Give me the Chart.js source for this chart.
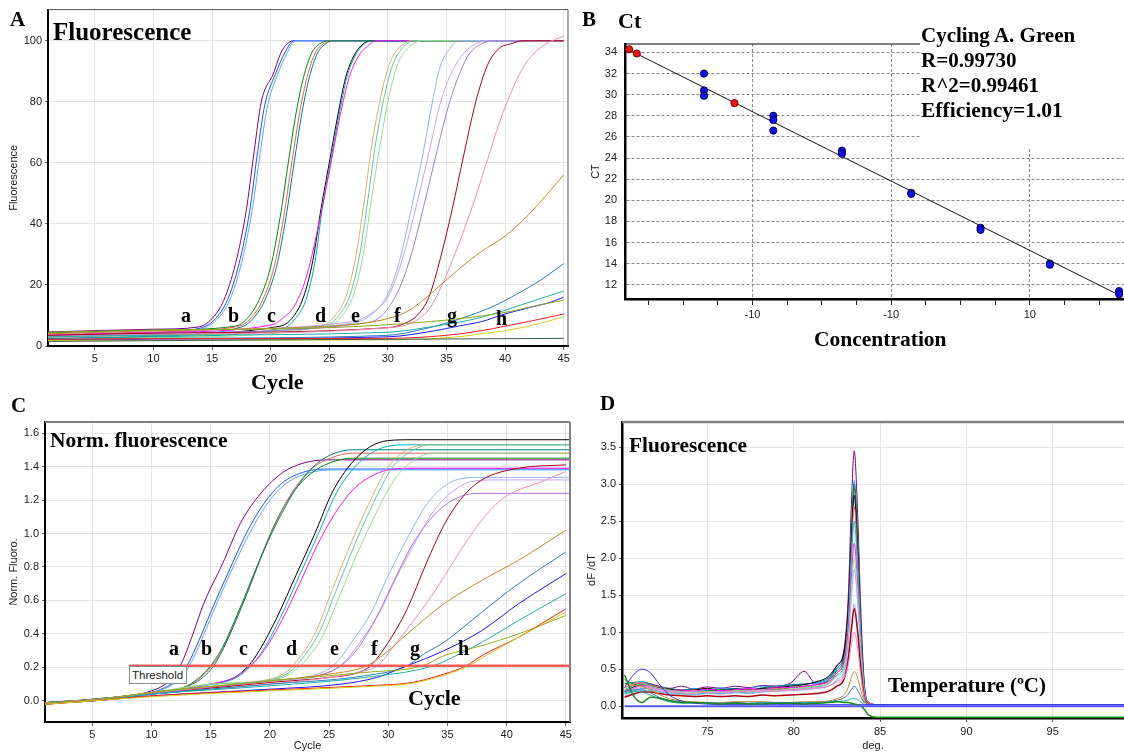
<!DOCTYPE html>
<html><head><meta charset="utf-8">
<script src="https://cdn.jsdelivr.net/npm/chart.js@4.4.1/dist/chart.umd.min.js"></script>
<style>
html,body{margin:0;padding:0;background:#fff;}
body{width:1124px;height:753px;position:relative;overflow:hidden;}
canvas{position:absolute;}
.t{position:absolute;font-family:"Liberation Serif","Times New Roman",serif;font-weight:bold;color:#000;line-height:1;white-space:nowrap;}
#thr{position:absolute;left:129px;top:666px;width:54px;height:16px;border:1px solid #8a8a8a;background:#fff;font:11.5px "Liberation Sans",Arial,sans-serif;line-height:16px;padding-left:2px;color:#222;}
#bmask{position:absolute;left:920px;top:26px;width:204px;height:122px;background:#fff;}
</style></head><body>
<canvas id="cA" width="575" height="395" style="left:0;top:0"></canvas>
<canvas id="cB" width="554" height="360" style="left:575px;top:0"></canvas>
<canvas id="cC" width="575" height="353" style="left:0;top:400px"></canvas>
<canvas id="cD" width="549" height="353" style="left:575px;top:400px"></canvas>
<div id="bmask"></div>
<div id="thr">Threshold</div>
<script>
// ---------- Panel A: raw fluorescence [cycle, value] ----------
const ampA_a1 = [[1,4.6],[10,5.5],[13.8,6.2],[15,9],[16,15],[17,27],[17.9,44],[18.6,64],[19.2,80],[20.2,89],[21,97],[22,100],[45,100]];
const ampA_a2 = [[1,3.4],[10,4.4],[14.1,6],[15.3,9],[16.3,15],[17.3,27],[18.2,44],[18.9,64],[19.5,79],[20.4,89],[21.2,96],[22,100],[45,100]];
const ampA_a3 = [[1,2.6],[10,3.5],[14.3,5.8],[15.5,9],[16.5,15],[17.5,27],[18.4,44],[19.1,63],[19.7,78],[20.6,89],[21.4,96],[22.1,100],[45,100]];
const ampA_b1 = [[1,4.3],[10,5.2],[17,6.5],[18,9],[19,15],[20,26],[20.8,42],[21.5,60],[22.2,77],[22.8,88],[23.5,96],[24.2,99],[25,100],[45,100]];
const ampA_b2 = [[1,3.8],[10,4.6],[17.3,6.5],[18.3,9],[19.3,15],[20.3,26],[21.1,42],[21.8,60],[22.5,77],[23.1,88],[23.8,96],[24.5,99],[25.2,100],[45,100]];
const ampA_b3 = [[1,2.4],[10,3.2],[17.5,6.2],[18.5,9],[19.5,15],[20.5,26],[21.3,42],[22,60],[22.7,77],[23.3,88],[24,96],[24.7,99],[25.3,100],[45,100]];
const ampA_c1 = [[1,3.0],[10,3.8],[20.8,6.5],[21.8,9],[22.8,16],[23.6,28],[24.3,45],[25,60],[25.7,75],[26.4,88],[27.1,95],[27.9,99],[28.8,100],[45,100]];
const ampA_c2 = [[1,2.2],[10,3],[21.2,6],[22,8.5],[23,15],[23.8,28],[24.4,45],[25.1,60],[25.8,75],[26.5,88],[27.2,95],[28,99],[29,100],[45,100]];
const ampA_c3 = [[1,3.6],[10,4.4],[20.2,7],[21,9],[22,13],[23,22],[24,38],[25,57],[25.9,75],[26.7,88],[27.5,95],[28.2,98],[29,100],[45,100]];
const ampA_d1 = [[1,2.8],[10,3.5],[24.6,7],[25.5,10],[26.5,17],[27.3,30],[28,48],[28.6,65],[29.3,80],[30.1,92],[30.8,97],[31.6,99.5],[32,100],[45,100]];
const ampA_d2 = [[1,3.3],[10,4],[24.9,7],[25.8,10],[26.8,17],[27.6,30],[28.3,48],[28.9,65],[29.6,80],[30.4,92],[31.1,97],[31.8,99.5],[32.2,100],[45,100]];
const ampA_d3 = [[1,2.0],[10,2.7],[25.2,7],[26.1,10],[27.1,17],[27.9,30],[28.6,48],[29.3,65],[30,80],[30.8,92],[31.6,97],[32.4,99.5],[33,100],[45,100]];
const ampA_e1 = [[1,2.8],[10,4],[27,7.5],[28.5,10],[30,17],[31,28],[32,45],[33,63],[33.8,80],[34.5,92],[35.2,97],[36,100],[45,100]];
const ampA_e2 = [[1,4],[10,5],[27,8],[28.5,10.5],[30,16],[31.2,28],[32.5,47],[33.6,65],[34.5,80],[35.5,90],[36.5,96],[37.5,99],[38.5,100],[45,100]];
const ampA_e3 = [[1,3.2],[10,4.2],[28,7.5],[29.5,10],[31,19],[32,30],[33.2,48],[34.2,64],[35.2,79],[36.2,90],[37,96],[38,99],[39,100],[45,100]];
const ampA_f1 = [[1,3.5],[10,4.2],[30,6],[31.5,7.5],[32.5,10],[33.5,16],[34.5,29],[35.5,45],[36.5,63],[37.5,80],[38.5,92],[39.5,97.5],[40.5,99],[41.5,100],[45,100]];
const ampA_f2 = [[1,3],[10,3.8],[30,6],[32,7.5],[33.5,12],[34.5,19],[35.5,28],[36.5,38],[37.5,49],[38.5,61],[39.5,73],[40.5,83],[41.5,91],[42.5,96],[43.5,99],[45,101.5]];
const ampA_f3 = [[1,4],[10,5],[25,6.5],[28,7.5],[30,9],[31.5,11],[33,15],[34.5,20],[36,25],[38,31],[40,36],[42,43],[45,56]];
const ampA_g1 = [[1,2],[10,2.5],[30,3.5],[33,5.5],[35,7.5],[37,10],[39,13],[41,17],[43,21.5],[45,27]];
const ampA_g2 = [[1,3],[10,3.5],[30,4.5],[34,6.5],[37,8.5],[39,10.5],[41,13],[43,15.5],[45,18]];
const ampA_g3 = [[1,1.8],[10,2.2],[30,3],[34,5],[36,6.5],[38,8],[40,10.5],[42,12.5],[44,14.5],[45,16]];
const ampA_g4 = [[1,4.5],[10,5.2],[25,6],[30,7],[35,8.5],[40,11],[43,13.5],[45,15]];
const ampA_h1 = [[1,2.2],[10,2.4],[30,2.5],[35,3.5],[38,5],[40,6.5],[42,8],[45,10.5]];
const ampA_h2 = [[1,1.8],[10,1.9],[30,2],[36,3],[38,4],[40,5],[42,6.5],[45,9.5]];
const ampA_n1 = [[1,1.5],[20,2],[45,2.5]];
const ampTicksX = [5,10,15,20,25,30,35,40,45];
const ampTicksY = [0,20,40,60,80,100];

// ---------- Panel B: standard curve ----------
const stdLogConc = [-4.70,-4.70,-4.70,-3.70,-3.70,-3.70,-2.71,-2.71,-1.71,-1.71,-0.71,-0.71,0.29,0.29,1.29,1.29];
const stdCt      = [32.0,30.4,29.9,28.0,27.6,26.6,24.7,24.4,20.7,20.6,17.4,17.2,14.0,13.9,11.4,11.1];
const unkLogConc = [-5.78,-5.67,-4.26];
const unkCt      = [34.3,33.9,29.2];
const fitLogConc = [-5.74,1.31];
const fitCt      = [34.1,10.95];
const concTickVals = [-5.5,-5,-4.5,-4,-3.5,-3,-2.5,-2,-1.5,-1,-0.5,0,0.5,1];
const concMajor    = [-4,-2,0];
const concLabels   = ['-10','-10','10'];
const ctTicks = [12,14,16,18,20,22,24,26,28,30,32,34];

// ---------- Panel C: normalised fluorescence [cycle, value] ----------
const normC_a1 = [[1,-0.01],[5,0.01],[10,0.06],[11.5,0.12],[12.5,0.22],[13.5,0.4],[14.4,0.58],[16,0.82],[17.5,1.06],[19,1.22],[21,1.36],[22.8,1.42],[25,1.44],[45.4,1.44]];
const normC_a2 = [[1,-0.015],[5,0.005],[10,0.05],[12,0.12],[13,0.21],[14,0.36],[15,0.53],[16.5,0.77],[18,1.0],[19.5,1.18],[21,1.3],[23,1.37],[25,1.385],[45.4,1.385]];
const normC_a3 = [[1,-0.012],[5,0.006],[10,0.048],[12.2,0.12],[13.2,0.21],[14.2,0.36],[15.2,0.53],[16.7,0.77],[18.2,0.99],[19.7,1.17],[21.2,1.29],[23.2,1.36],[25.5,1.38],[45.4,1.38]];
const normC_b1 = [[1,-0.01],[5,0.01],[10,0.05],[13,0.09],[14.5,0.17],[15.3,0.24],[16,0.32],[17.5,0.56],[19,0.82],[20.5,1.07],[22,1.25],[23.5,1.36],[25,1.42],[27,1.45],[45.4,1.45]];
const normC_b2 = [[1,-0.012],[5,0.008],[10,0.05],[13,0.088],[14.6,0.17],[15.4,0.24],[16.1,0.32],[17.6,0.56],[19.1,0.83],[20.6,1.08],[22.1,1.27],[23.6,1.39],[25.1,1.45],[27,1.48],[45.4,1.48]];
const normC_b3 = [[1,-0.02],[5,0.005],[10,0.045],[13,0.085],[14.8,0.17],[15.6,0.25],[16.5,0.38],[18,0.63],[19.5,0.9],[21,1.12],[22.5,1.3],[24,1.42],[25.5,1.48],[27,1.5],[45.4,1.5]];
const normC_c1 = [[1,-0.02],[5,0.005],[10,0.05],[15,0.1],[17,0.14],[18.2,0.21],[19.1,0.3],[20.6,0.5],[22.2,0.75],[23.8,1.0],[25.3,1.25],[26.9,1.42],[28.5,1.52],[30,1.555],[32,1.56],[45.4,1.56]];
const normC_c2 = [[1,-0.015],[5,0.005],[10,0.048],[15,0.098],[17.2,0.14],[18.4,0.21],[19.4,0.3],[20.9,0.5],[22.5,0.75],[24.1,1.0],[25.6,1.24],[27.2,1.4],[28.8,1.49],[30.3,1.525],[32,1.53],[45.4,1.53]];
const normC_c3 = [[1,-0.015],[5,0.005],[10,0.05],[15,0.1],[17,0.14],[18.5,0.22],[19.5,0.3],[21,0.48],[22.5,0.7],[24,0.93],[25.5,1.12],[27,1.26],[28.5,1.34],[30,1.38],[32,1.39],[45.4,1.39]];
const normC_d1 = [[1,-0.01],[5,0.005],[10,0.05],[15,0.1],[20,0.13],[21.5,0.18],[22.5,0.26],[23.8,0.4],[25.3,0.67],[26.9,0.95],[28.5,1.2],[30,1.4],[31.6,1.5],[33.2,1.53],[45.4,1.53]];
const normC_d2 = [[1,-0.012],[5,0.004],[10,0.048],[15,0.098],[20.3,0.13],[21.8,0.18],[22.8,0.26],[24.1,0.4],[25.6,0.66],[27.2,0.94],[28.8,1.19],[30.3,1.39],[31.9,1.49],[33.5,1.53],[45.4,1.53]];
const normC_d3 = [[1,-0.01],[5,0.006],[10,0.05],[15,0.1],[20.6,0.13],[22.1,0.18],[23.1,0.25],[24.4,0.38],[25.9,0.63],[27.5,0.9],[29.1,1.14],[30.6,1.33],[32.2,1.44],[33.8,1.48],[45.4,1.48]];
const normC_e1 = [[1,-0.01],[5,0.005],[10,0.045],[20,0.12],[24,0.16],[25.5,0.22],[26.9,0.35],[28.5,0.52],[30,0.75],[31.6,0.97],[33.2,1.17],[34.7,1.28],[36.3,1.33],[38,1.335],[45.4,1.335]];
const normC_e2 = [[1,-0.012],[5,0.004],[10,0.044],[20,0.118],[24.6,0.16],[26.1,0.22],[27.6,0.35],[29.2,0.52],[30.7,0.74],[32.3,0.95],[33.9,1.14],[35.4,1.25],[37,1.31],[39,1.32],[45.4,1.32]];
const normC_e3 = [[1,-0.01],[5,0.005],[10,0.046],[20,0.12],[24.5,0.16],[26,0.21],[27.5,0.32],[29,0.5],[30.5,0.72],[32,0.93],[33.5,1.08],[35,1.18],[36.5,1.23],[38,1.24],[45.4,1.24]];
const normC_f1 = [[1,-0.01],[5,0.0],[10,0.04],[20,0.11],[25,0.14],[27.5,0.17],[28.5,0.21],[30,0.35],[31.6,0.55],[33.2,0.82],[34.7,1.05],[36.3,1.22],[37.9,1.32],[41,1.39],[45,1.41]];
const normC_f2 = [[1,-0.01],[5,0],[10,0.04],[20,0.1],[26,0.15],[28,0.18],[29.1,0.21],[30.5,0.33],[31.6,0.43],[33.2,0.58],[34.7,0.74],[36.3,0.92],[37.9,1.08],[39.5,1.2],[41,1.26],[42.6,1.3],[45,1.37]];
const normC_f3 = [[1,-0.015],[5,0],[10,0.05],[20,0.12],[25,0.16],[28.2,0.21],[30,0.3],[31.6,0.4],[34.7,0.58],[37.9,0.72],[41,0.84],[45,1.02]];
const normC_g1 = [[1,-0.01],[5,0],[10,0.04],[20,0.1],[28,0.15],[31.6,0.21],[33,0.28],[34.7,0.35],[37.9,0.53],[41,0.7],[45,0.89]];
const normC_g2 = [[1,-0.01],[5,0],[10,0.03],[20,0.07],[26,0.1],[29,0.14],[31.6,0.21],[34.7,0.3],[37.9,0.42],[41,0.58],[45,0.76]];
const normC_g3 = [[1,-0.01],[5,0],[10,0.04],[20,0.09],[28,0.14],[33.8,0.21],[36,0.28],[37.9,0.35],[41,0.48],[45,0.64]];
const normC_g4 = [[1,-0.01],[5,0.005],[10,0.05],[20,0.12],[28,0.17],[32.9,0.21],[34.7,0.27],[37.9,0.33],[41,0.4],[45,0.51]];
const normC_h1 = [[1,-0.02],[5,0],[10,0.03],[20,0.065],[28,0.09],[32,0.11],[34.7,0.16],[36.6,0.21],[37.9,0.27],[41,0.38],[45,0.55]];
const normC_h2 = [[1,-0.02],[5,0],[10,0.025],[20,0.06],[28,0.085],[32,0.105],[35,0.16],[36.8,0.21],[38,0.26],[41,0.38],[45,0.53]];
const thresholdLine = [[8.1,0.21],[45.4,0.21]];
const normTicksY = [0,0.2,0.4,0.6,0.8,1.0,1.2,1.4,1.6];

// ---------- Panel D: melt curve dF/dT ----------
const meltT = [70.2,70.7,71.2,71.7,72.2,72.8,73.5,74.2,75,75.8,76.6,77.4,78.2,79,79.8,80.6,81.3,82,82.5,82.9,83.15,83.35,83.5,83.7,83.9,84.1,84.35,84.8,85.5,100];
const melt_purple = [0.22,0.28,0.31,0.30,0.27,0.24,0.27,0.23,0.26,0.24,0.27,0.25,0.28,0.27,0.31,0.47,0.30,0.36,0.55,0.75,1.45,2.8,3.45,2.6,1.2,0.28,0.05,0.02,0.01,0.01];
const melt_dblue  = [0.18,0.25,0.30,0.29,0.25,0.22,0.21,0.24,0.22,0.25,0.23,0.24,0.27,0.26,0.28,0.30,0.31,0.36,0.5,0.68,1.3,2.45,3.05,2.3,1.05,0.25,0.05,0.02,0.01,0.01];
const melt_teal   = [0.30,0.32,0.33,0.30,0.26,0.24,0.22,0.23,0.21,0.22,0.24,0.22,0.25,0.27,0.29,0.30,0.32,0.38,0.52,0.7,1.3,2.4,3.0,2.25,1.0,0.24,0.05,0.02,0.01,0.01];
const melt_green  = [0.36,0.30,0.28,0.27,0.24,0.20,0.21,0.19,0.20,0.22,0.20,0.21,0.23,0.22,0.25,0.27,0.29,0.34,0.48,0.65,1.25,2.35,2.95,2.2,1.0,0.22,0.04,0.02,0.01,0.01];
const melt_black  = [0.20,0.26,0.29,0.28,0.25,0.23,0.21,0.22,0.24,0.21,0.23,0.22,0.24,0.25,0.27,0.29,0.33,0.40,0.55,0.72,1.3,2.3,2.85,2.1,0.95,0.22,0.04,0.02,0.01,0.01];
const melt_coral  = [0.25,0.30,0.32,0.28,0.26,0.22,0.20,0.22,0.19,0.21,0.20,0.23,0.21,0.24,0.23,0.26,0.27,0.31,0.45,0.6,1.15,2.15,2.7,2.0,0.9,0.2,0.04,0.02,0.01,0.01];
const melt_cyan   = [0.16,0.20,0.24,0.23,0.20,0.18,0.17,0.16,0.18,0.17,0.19,0.18,0.20,0.21,0.22,0.24,0.26,0.30,0.42,0.55,1.05,2.0,2.5,1.85,0.85,0.2,0.04,0.02,0.01,0.01];
const melt_magenta= [0.19,0.24,0.28,0.26,0.23,0.21,0.22,0.20,0.23,0.21,0.22,0.24,0.22,0.26,0.25,0.27,0.29,0.33,0.45,0.6,1.0,1.8,2.2,1.65,0.75,0.18,0.04,0.02,0.01,0.01];
const melt_lgreen = [0.22,0.27,0.30,0.27,0.24,0.21,0.20,0.18,0.20,0.19,0.21,0.20,0.22,0.21,0.23,0.25,0.27,0.30,0.40,0.5,0.9,1.6,2.0,1.5,0.7,0.17,0.04,0.02,0.01,0.01];
const melt_lsteel = [0.14,0.18,0.22,0.21,0.19,0.17,0.16,0.15,0.17,0.16,0.18,0.17,0.19,0.20,0.21,0.22,0.24,0.27,0.36,0.46,0.82,1.5,1.85,1.4,0.65,0.15,0.03,0.02,0.01,0.01];
const melt_violet = [0.20,0.24,0.27,0.25,0.22,0.20,0.19,0.20,0.18,0.20,0.19,0.21,0.20,0.22,0.21,0.23,0.24,0.27,0.34,0.42,0.68,1.12,1.38,1.05,0.5,0.12,0.03,0.02,0.01,0.01];
const melt_dred   = [0.12,0.16,0.19,0.19,0.17,0.15,0.14,0.13,0.14,0.13,0.14,0.13,0.15,0.14,0.15,0.16,0.17,0.20,0.27,0.36,0.62,1.06,1.32,1.0,0.48,0.11,0.03,0.02,0.01,0.01];
const melt_pink   = [0.18,0.22,0.25,0.24,0.21,0.19,0.18,0.17,0.19,0.18,0.20,0.19,0.21,0.20,0.22,0.23,0.25,0.27,0.32,0.38,0.55,0.85,1.0,0.78,0.38,0.1,0.03,0.02,0.01,0.01];
const melt_ochre  = [0.30,0.28,0.27,0.22,0.16,0.10,0.07,0.06,0.05,0.05,0.06,0.06,0.06,0.05,0.05,0.06,0.06,0.07,0.1,0.15,0.25,0.4,0.47,0.38,0.2,0.06,0.02,0.01,0.01,0.01];
const melt_steel  = [0.20,0.22,0.22,0.18,0.12,0.08,0.06,0.05,0.05,0.04,0.05,0.04,0.05,0.05,0.05,0.05,0.05,0.06,0.08,0.11,0.16,0.23,0.27,0.22,0.12,0.04,0.01,0.01,0.01,0.01];
const melt_lsea   = [0.18,0.20,0.19,0.15,0.10,0.06,0.04,0.04,0.03,0.03,0.03,0.03,0.04,0.04,0.04,0.04,0.04,0.05,0.06,0.07,0.08,0.1,0.1,0.09,0.05,0.02,0.0,0.0,0.0,0.0];
const melt_blue   = [0.25,0.42,0.50,0.45,0.30,0.15,0.07,0.04,0.03,0.02,0.02,0.02,0.02,0.02,0.02,0.02,0.02,0.02,0.02,0.02,0.02,0.02,0.02,0.02,0.02,0.02,0.02,0.02,0.02,0.02];
const melt_dgreen = [0.42,0.15,0.05,0.12,0.11,0.07,0.05,0.05,0.04,0.03,0.04,0.03,0.03,0.04,0.04,0.03,0.04,0.05,0.06,0.05,0.05,0.04,0.03,0.02,0.0,-0.05,-0.12,-0.15,-0.15,-0.15];
const melt_ntc    = [0,0,0,0,0,0,0,0,0,0,0,0,0,0,0,0,0,0,0,0,0,0,0,0,0,0,0,0,0,0];
const meltTicksX = [75,80,85,90,95];
const meltTicksY = [0,0.5,1.0,1.5,2.0,2.5,3.0,3.5];

// ---------- helpers ----------
Chart.defaults.font.family = '"Liberation Sans", Arial, sans-serif';
Chart.defaults.font.size = 11;
Chart.defaults.color = '#222';
Chart.defaults.animation = false;
Chart.defaults.plugins.legend.display = false;
Chart.defaults.plugins.tooltip.enabled = false;

const framePlugin = {
  id: 'frame',
  afterDraw(chart, args, o) {
    const a = chart.chartArea, ctx = chart.ctx;
    ctx.save();
    if (o.top) { ctx.strokeStyle = o.top[0]; ctx.lineWidth = o.top[1]; ctx.beginPath(); ctx.moveTo(a.left, a.top); ctx.lineTo(a.right, a.top); ctx.stroke(); }
    if (o.right) { ctx.strokeStyle = o.right[0]; ctx.lineWidth = o.right[1]; ctx.beginPath(); ctx.moveTo(a.right, a.top); ctx.lineTo(a.right, a.bottom); ctx.stroke(); }
    ctx.restore();
  }
};
Chart.register(framePlugin);

const pairs = arr => arr.map(p => ({x: p[0], y: p[1]}));
const zipXY = (xs, ys) => xs.map((x, i) => ({x: x, y: ys[i]}));
function curve(data, color, extra) {
  return Object.assign({data: data, borderColor: color, backgroundColor: color, borderWidth: 1, pointRadius: 0,
    fill: false, cubicInterpolationMode: 'monotone'}, extra || {});
}
const setTicks = vals => (scale => { scale.ticks = vals.map(v => ({value: v})); });

function cycleScales(xMax, yTicks, yMin, yMax, yTitle, yW, xH, xTitle, yFmt) {
  return {
    x: {type: 'linear', min: 1, max: xMax, afterBuildTicks: setTicks(ampTicksX),
        afterFit: s => { s.height = xH; },
        grid: {color: '#e4e4e4', tickLength: 4, tickColor: '#666'},
        border: {color: '#000', width: 2},
        ticks: {autoSkip: false, maxRotation: 0, padding: 2, color: '#222'},
        title: xTitle ? {display: true, text: xTitle, padding: {top: 0, bottom: 0}, font: {size: 11}} : {display: false}},
    y: {type: 'linear', min: yMin, max: yMax, afterBuildTicks: setTicks(yTicks),
        afterFit: s => { s.width = yW; },
        grid: {color: '#e4e4e4', tickLength: 3, tickColor: '#666'},
        border: {color: '#000', width: 2},
        ticks: {padding: 3, color: '#222', callback: yFmt},
        title: {display: true, text: yTitle, padding: {top: 7, bottom: 0}, font: {size: 11}}}
  };
}

// ---------- Chart A ----------
const seriesA = [
  [ampA_n1,'#3c5a50'],[ampA_h2,'#d8cc1a'],[ampA_h1,'#ff1a1a'],[ampA_g4,'#8fa61c'],[ampA_g3,'#1a1aff'],[ampA_g2,'#20b0a8'],[ampA_g1,'#2a80b8'],
  [ampA_f3,'#c08a28'],[ampA_f2,'#ee8cb8'],[ampA_f1,'#b00010'],
  [ampA_e3,'#9a80dd'],[ampA_e2,'#c8a0ee'],[ampA_e1,'#90b4ec'],
  [ampA_d3,'#8ee08e'],[ampA_d2,'#5cc8a8'],[ampA_d1,'#dcae6a'],
  [ampA_c3,'#ff10ff'],[ampA_c2,'#00a8a8'],[ampA_c1,'#000000'],
  [ampA_b3,'#008080'],[ampA_b2,'#e8605a'],[ampA_b1,'#008a10'],
  [ampA_a3,'#55a8ff'],[ampA_a2,'#2050ff'],[ampA_a1,'#800080']
];
new Chart(document.getElementById('cA'), {
  type: 'line',
  data: {datasets: seriesA.map(s => curve(pairs(s[0]), s[1]))},
  options: {
    responsive: false, layout: {padding: {left: 0, top: 8, right: 7, bottom: 0}},
    scales: cycleScales(45.37, ampTicksY, 0, 110.2, 'Fluorescence', 48, 49, null, v => v),
    plugins: {frame: {top: ['#555', 1], right: ['#555', 1]}}
  }
});

// ---------- Chart B ----------
new Chart(document.getElementById('cB'), {
  type: 'line',
  data: {datasets: [
    {data: zipXY(unkLogConc, unkCt), showLine: false, pointRadius: 3.6, pointBackgroundColor: '#ee1515', pointBorderColor: '#7a0000', pointBorderWidth: 1},
    {data: zipXY(stdLogConc, stdCt), showLine: false, pointRadius: 3.6, pointBackgroundColor: '#1010ee', pointBorderColor: '#00005a', pointBorderWidth: 1},
    {data: zipXY(fitLogConc, fitCt), borderColor: '#111', borderWidth: 1, pointRadius: 0, tension: 0}
  ]},
  options: {
    responsive: false, layout: {padding: {left: 0, top: 44, right: 0, bottom: 0}},
    scales: {
      x: {type: 'linear', min: -5.84, max: 1.36, afterBuildTicks: setTicks(concTickVals),
          afterFit: s => { s.height = 61; },
          grid: {color: c => (c.tick && concMajor.includes(c.tick.value)) ? '#8a8a8a' : 'rgba(0,0,0,0)',
                 tickLength: 6, tickColor: '#222', tickBorderDash: []},
          border: {color: '#000', width: 2.5, dash: [3, 2]},
          ticks: {autoSkip: false, maxRotation: 0, padding: 3, color: '#222',
                  callback: v => { const i = concMajor.indexOf(v); return i >= 0 ? concLabels[i] : ''; }}},
      y: {type: 'linear', min: 10.65, max: 34.8, afterBuildTicks: setTicks(ctTicks),
          afterFit: s => { s.width = 50; },
          grid: {color: '#8a8a8a', drawTicks: false},
          border: {color: '#000', width: 2.5, dash: [3, 2]},
          ticks: {padding: 8, color: '#222'},
          title: {display: true, text: 'CT', padding: {top: 14, bottom: 0}, font: {size: 11}}}
    },
    plugins: {frame: {top: ['#000', 1]}}
  }
});

// ---------- Chart C ----------
const seriesC = [
  [normC_h2,'#d8cc1a'],[normC_h1,'#ff1a1a'],[normC_g4,'#96ac20'],[normC_g3,'#20b0a8'],[normC_g2,'#1a1aff'],[normC_g1,'#2a80b8'],
  [normC_f3,'#c08a28'],[normC_f2,'#ee8cb8'],[normC_f1,'#b00010'],
  [normC_e3,'#b070e0'],[normC_e2,'#c0a0ee'],[normC_e1,'#90b4ec'],
  [normC_d3,'#8ee08e'],[normC_d2,'#5cc8a8'],[normC_d1,'#dcae6a'],
  [normC_c3,'#ff10ff'],[normC_c2,'#00b4c0'],[normC_c1,'#000000'],
  [normC_b3,'#008080'],[normC_b2,'#e8605a'],[normC_b1,'#008a10'],
  [normC_a3,'#55a8ff'],[normC_a2,'#2050ff'],[normC_a1,'#800080']
];
const dsC = [curve(pairs(thresholdLine), '#ff5a5a', {borderWidth: 2.5, cubicInterpolationMode: 'default', tension: 0})]
  .concat(seriesC.map(s => curve(pairs(s[0]), s[1])));
new Chart(document.getElementById('cC'), {
  type: 'line',
  data: {datasets: dsC},
  options: {
    responsive: false, layout: {padding: {left: 0, top: 22, right: 5, bottom: 0}},
    scales: cycleScales(45.35, normTicksY, -0.126, 1.666, 'Norm. Fluoro.', 45, 31, 'Cycle', v => v.toFixed(1)),
    plugins: {frame: {top: ['#808080', 2], right: ['#808080', 2]}}
  }
});

// ---------- Chart D ----------
const seriesD = [
  [melt_ntc,'#5a5aff',{borderWidth: 2}],[melt_dgreen,'#1e8a1e',{borderWidth: 1.5}],[melt_blue,'#3030ff'],[melt_lsea,'#20b0a8'],[melt_steel,'#2a80b8'],
  [melt_ochre,'#c08a28'],[melt_pink,'#ee8cb8'],[melt_dred,'#b00010',{borderWidth: 1.5}],[melt_violet,'#c890ee'],[melt_lsteel,'#90b4ec'],
  [melt_lgreen,'#8ee08e'],[melt_magenta,'#ff10ff'],[melt_cyan,'#00c0c8'],[melt_coral,'#e8605a'],[melt_black,'#000000'],
  [melt_green,'#008a10'],[melt_teal,'#008080'],[melt_dblue,'#3090ff'],[melt_purple,'#800080']
];
new Chart(document.getElementById('cD'), {
  type: 'line',
  data: {datasets: seriesD.map(s => curve(zipXY(meltT, s[0]), s[1], s[2]))},
  options: {
    responsive: false, layout: {padding: {left: 0, top: 22, right: 0, bottom: 0}},
    scales: {
      x: {type: 'linear', min: 70.05, max: 99.13, afterBuildTicks: setTicks(meltTicksX),
          afterFit: s => { s.height = 35; },
          grid: {color: '#e4e4e4', tickLength: 4, tickColor: '#666'},
          border: {color: '#000', width: 2.5},
          ticks: {autoSkip: false, maxRotation: 0, padding: 3, color: '#222'},
          title: {display: true, text: 'deg.', padding: {top: 0, bottom: 0}, font: {size: 11}}},
      y: {type: 'linear', min: -0.16, max: 3.84, afterBuildTicks: setTicks(meltTicksY),
          afterFit: s => { s.width = 47; },
          grid: {color: '#e4e4e4', tickLength: 3, tickColor: '#666'},
          border: {color: '#000', width: 2.5},
          ticks: {padding: 3, color: '#222', callback: v => v.toFixed(1)},
          title: {display: true, text: 'dF /dT', padding: {top: 10, bottom: 0}, font: {size: 11}}}
    },
    plugins: {frame: {top: ['#808080', 2.5]}}
  }
});

// ---------- bold annotations (HTML text) ----------
const annotations = [
  ['A', 10, 27, 21], ['Fluorescence', 53, 40, 25], ['Cycle', 251, 389, 22],
  ['a', 181, 322, 20], ['b', 228, 322, 20], ['c', 267, 322, 20], ['d', 315, 322, 20],
  ['e', 351, 322, 20], ['f', 394, 322, 20], ['g', 447, 322, 20], ['h', 496, 325, 20],
  ['B', 582, 27, 21], ['Ct', 618, 28, 22],
  ['Cycling A. Green', 921, 43, 21], ['R=0.99730', 921, 68, 21], ['R^2=0.99461', 921, 93, 21], ['Efficiency=1.01', 921, 118, 21.5],
  ['Concentration', 814, 347, 21.5],
  ['C', 11, 413, 21], ['Norm. fluorescence', 50, 448, 21.5], ['Cycle', 408, 705, 22],
  ['a', 169, 655, 20], ['b', 201, 655, 20], ['c', 239, 655, 20], ['d', 286, 655, 20],
  ['e', 330, 655, 20], ['f', 371, 655, 20], ['g', 410, 655, 20], ['h', 458, 655, 20],
  ['D', 600, 411, 21], ['Fluorescence', 629, 453, 21.3], ['Temperature (\u00baC)', 888, 693, 21]
];
annotations.forEach(a => {
  const d = document.createElement('div');
  d.className = 't';
  d.textContent = a[0];
  d.style.fontSize = a[3] + 'px';
  d.style.left = a[1] + 'px';
  d.style.top = (a[2] - 0.8375 * a[3]) + 'px';
  document.body.appendChild(d);
});
</script>
</body></html>
